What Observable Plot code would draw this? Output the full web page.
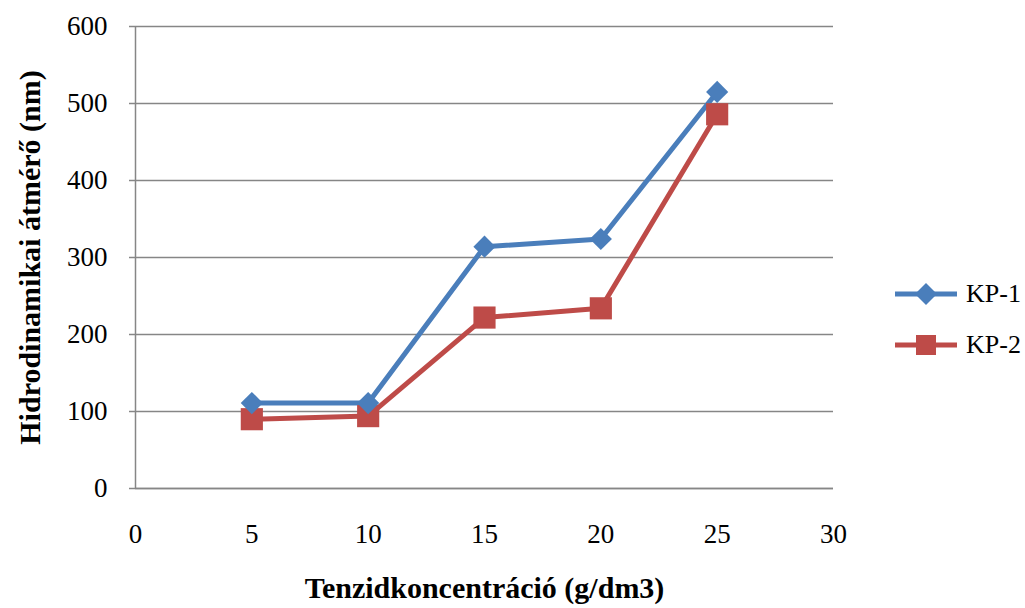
<!DOCTYPE html>
<html>
<head>
<meta charset="utf-8">
<script src="https://cdn.jsdelivr.net/npm/d3@7"></script>
<script src="https://cdn.jsdelivr.net/npm/@observablehq/plot@0.6"></script>
<style>
  html, body { margin: 0; padding: 0; background: #fff; }
  #wrap { position: relative; width: 1025px; height: 608px; font-family: "Liberation Serif", "Times New Roman", serif; }
  #wrap svg text { font-family: "Liberation Serif", "Times New Roman", serif; }
  .legend { position: absolute; left: 893px; height: 28px; font-size: 26px; display: flex; align-items: center; font-family: "Liberation Serif", serif; }
  .legend svg { margin-right: 7px; }
</style>
</head>
<body>
<div id="wrap"></div>
<script>
// Surfactant concentration (g/dm3) and hydrodynamic diameter (nm)
const concentration = [5, 10, 15, 20, 25];
const kp1 = [111, 111, 314, 324, 515];
const kp2 = [90, 94, 222, 234, 486];
const xTicks = [0, 5, 10, 15, 20, 25, 30];
const yTicks = [0, 100, 200, 300, 400, 500, 600];
const seriesNames = ["KP-1", "KP-2"];
const seriesColors = ["#4A7EBB", "#BE4B48"];
const seriesSymbols = ["diamond2", "square"];
const seriesRadius = [10, 12.5];

const serif = "Liberation Serif, Times New Roman, serif";

const rows = [
  ...concentration.map((c, i) => ({series: "KP-1", c, d: kp1[i], r: seriesRadius[0]})),
  ...concentration.map((c, i) => ({series: "KP-2", c, d: kp2[i], r: seriesRadius[1]}))
];

const chart = Plot.plot({
  width: 1025,
  height: 608,
  marginLeft: 135,
  marginRight: 192,
  marginTop: 26,
  marginBottom: 120,
  style: {fontFamily: serif, fontSize: "27px", background: "#fff", color: "#000"},
  x: {domain: [0, 30]},
  y: {domain: [0, 600]},
  r: {type: "identity"},
  color: {domain: seriesNames, range: seriesColors},
  symbol: {domain: seriesNames, range: seriesSymbols},
  marks: [
    Plot.gridY(yTicks, {stroke: "#868686", strokeOpacity: 1, strokeWidth: 1.5}),
    Plot.ruleX([0], {stroke: "#868686", strokeWidth: 1.5}),
    Plot.ruleY([0], {stroke: "#868686", strokeWidth: 1.5}),
    Plot.axisY(yTicks, {tickSize: 6, tickPadding: 22, stroke: "#868686", strokeWidth: 1.5, fontSize: 27, fontFamily: serif, label: null}),
    Plot.axisX(xTicks, {tickSize: 0, tickPadding: 35, fontSize: 27, fontFamily: serif, label: null}),
    Plot.text(["Hidrodinamikai átmérő (nm)"], {
      frameAnchor: "left", dx: -105, rotate: -90, fontWeight: "bold", fontSize: 30, fontFamily: serif, textAnchor: "middle", lineAnchor: "middle"
    }),
    Plot.text(["Tenzidkoncentráció (g/dm3)"], {
      frameAnchor: "bottom", dy: 100, fontWeight: "bold", fontSize: 30, fontFamily: serif, lineAnchor: "middle"
    }),
    Plot.line(rows, {x: "c", y: "d", z: "series", stroke: "series", strokeWidth: 5}),
    Plot.dot(rows, {x: "c", y: "d", symbol: "series", fill: "series", r: "r", stroke: null})
  ]
});

const wrap = document.getElementById("wrap");
wrap.appendChild(chart);

// Legend on the right
const legendTops = [280, 331];
seriesNames.forEach((name, i) => {
  const item = document.createElement("div");
  item.className = "legend";
  item.style.top = legendTops[i] + "px";
  const marker = i === 0
    ? `<polygon points="33,3 44,14 33,25 22,14" fill="${seriesColors[i]}"/>`
    : `<rect x="23" y="4" width="20" height="20" fill="${seriesColors[i]}"/>`;
  item.innerHTML = `<svg width="66" height="28"><line x1="2" x2="64" y1="14" y2="14" stroke="${seriesColors[i]}" stroke-width="5"/>${marker}</svg><span>${name}</span>`;
  wrap.appendChild(item);
});
</script>
</body>
</html>
